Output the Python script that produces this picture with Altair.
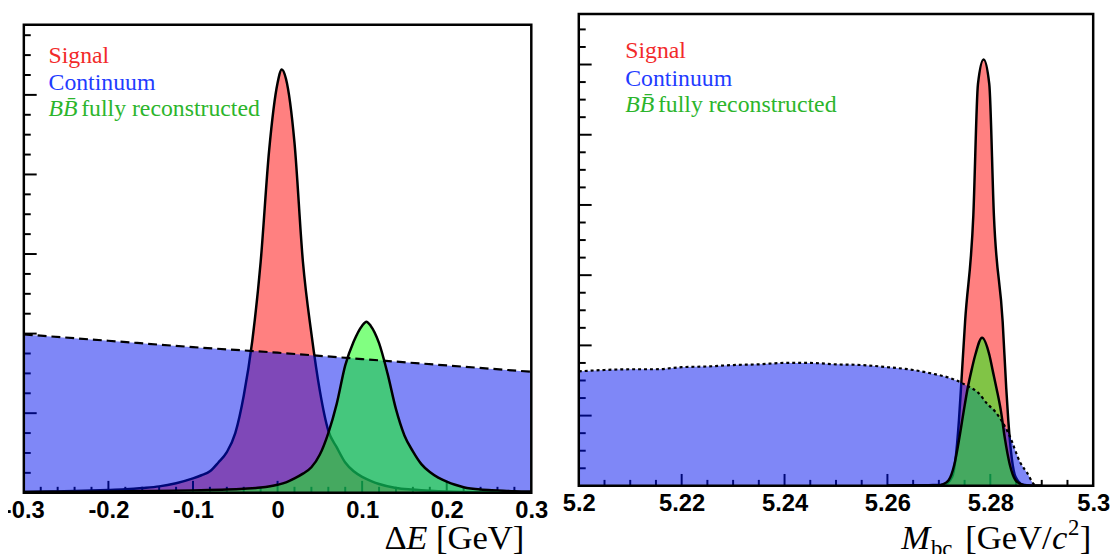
import altair as alt
import pandas as pd

# ---------------- Delta E panel data ----------------
de_signal_x = [-0.30, -0.28, -0.26, -0.24, -0.22, -0.20, -0.18, -0.16, -0.14, -0.12,
               -0.10, -0.09, -0.08, -0.07, -0.06, -0.05, -0.04, -0.03, -0.02, -0.01,
               0.00, 0.005, 0.01, 0.02, 0.03, 0.04, 0.05, 0.06, 0.07, 0.08,
               0.09, 0.10, 0.11, 0.12, 0.14, 0.16, 0.18, 0.20, 0.22, 0.25, 0.30]
de_signal_y = [1.0, 1.3, 1.7, 2.1, 2.7, 3.5, 4.5, 6, 8, 12,
               18, 22, 27, 38, 51, 75, 122, 190, 290, 430,
               515, 532, 520, 440, 290, 200, 128, 78, 57, 38,
               27, 20, 15, 11, 6, 4, 2.5, 1.5, 1.0, 0.7, 0.4]

de_bb_x = [-0.30, -0.25, -0.20, -0.15, -0.10, -0.06, -0.04, -0.02, 0.00, 0.01,
           0.02, 0.03, 0.04, 0.05, 0.06, 0.07, 0.08, 0.09, 0.10, 0.105,
           0.11, 0.12, 0.13, 0.14, 0.15, 0.16, 0.17, 0.18, 0.19, 0.20,
           0.21, 0.22, 0.24, 0.26, 0.28, 0.30]
de_bb_y = [1.0, 1.3, 1.6, 2.2, 3, 4, 5, 6.5, 10, 13,
           18, 24, 32, 48, 75, 112, 160, 190, 210, 215,
           210, 188, 150, 105, 72, 52, 36, 26, 19, 14,
           10, 7, 4, 3, 2, 1.5]

de_cont_x = [-0.3, -0.2, -0.1, 0.0, 0.1, 0.2, 0.3]
de_cont_y = [199, 191, 183, 176, 168, 160, 152]

de_labels = [-0.3, -0.2, -0.1, 0, 0.1, 0.2, 0.3]
de_major_x = [-0.2, -0.1, 0.0, 0.1, 0.2]
de_minor_x = [-0.28, -0.26, -0.24, -0.22, -0.18, -0.16, -0.14, -0.12, -0.08, -0.06, -0.04, -0.02,
              0.02, 0.04, 0.06, 0.08, 0.12, 0.14, 0.16, 0.18, 0.22, 0.24, 0.26, 0.28]
de_major_y = [100, 200, 300, 400, 500]
de_minor_y = [25, 50, 75, 125, 150, 175, 225, 250, 275, 325, 350, 375, 425, 450, 475, 525, 550, 575]

# ---------------- Mbc panel data ----------------
mbc_signal_x = [5.2600, 5.2680, 5.2710, 5.2726, 5.2739, 5.2743, 5.2751, 5.2767, 5.2776, 5.2787,
                5.2798, 5.2807, 5.2824, 5.2831, 5.2835, 5.2849, 5.2864, 5.2880, 5.2900]
mbc_signal_y = [0.3, 1, 1.5, 13, 93, 139, 234, 385, 572, 607,
                572, 385, 234, 139, 93, 13, 1.5, 0.3, 0]

mbc_bb_x = [5.2600, 5.2700, 5.2707, 5.2719, 5.2730, 5.2740, 5.2748, 5.2756, 5.2763, 5.2771,
            5.2784, 5.2798, 5.2805, 5.2812, 5.2821, 5.2828, 5.2838, 5.2849, 5.2861, 5.2870, 5.2900]
mbc_bb_y = [0, 0.5, 2, 8, 30, 69, 105, 139, 163, 187,
            211, 187, 163, 139, 105, 69, 30, 8, 2, 0.5, 0]

mbc_cont_x = [5.200, 5.205, 5.210, 5.215, 5.220, 5.225, 5.230, 5.235, 5.240, 5.245,
              5.250, 5.255, 5.260, 5.265, 5.2692, 5.2724, 5.2756, 5.2776, 5.2795, 5.2808,
              5.2837, 5.2859, 5.2872, 5.2885, 5.2890]
mbc_cont_y = [163, 165, 166, 166, 169, 170, 172, 173, 175, 175,
              173, 172, 169, 165, 159, 153, 142, 133, 116, 107,
              72, 32, 18, 2, 0]

mbc_labels = [5.2, 5.22, 5.24, 5.26, 5.28, 5.3]
mbc_major_x = [5.22, 5.24, 5.26, 5.28]
mbc_minor_x = [5.205, 5.21, 5.215, 5.225, 5.23, 5.235, 5.245, 5.25, 5.255,
               5.265, 5.27, 5.275, 5.285, 5.29, 5.295]
mbc_major_y = [100, 200, 300, 400, 500, 600]
mbc_minor_y = [25, 50, 75, 125, 150, 175, 225, 250, 275, 325, 350, 375,
               425, 450, 475, 525, 550, 575, 625, 650]

legend_names = ["Signal", "Continuum", "B" + "B\u0304", " fully reconstructed"]
legend_colors = ["#f22a2a", "#1f3cff", "#2cb52c"]

RED_FILL = "#ff8080"
BLUE_FILL = "#0010f0"
GREEN_FILL = "#12ff12"


def curve_df(xs, ys):
    return pd.DataFrame({"x": xs, "y": ys})


def txt(x, y, s, color="black", size=24, font="Liberation Serif", style="normal", align="left"):
    return alt.Chart(pd.DataFrame({"t": [s]})).mark_text(
        align=align, baseline="alphabetic", font=font, fontSize=size,
        fontStyle=style, color=color
    ).encode(x=alt.value(x), y=alt.value(y), text="t:N")


def panel(W, H, top, xdom, ydom, labels, sig, cont, bb, cont_dash,
          majx, minx, majy, miny, texts):
    xs = alt.Scale(domain=xdom, nice=False, zero=False)
    ys = alt.Scale(domain=ydom, nice=False, zero=False)
    ax = alt.Axis(values=labels, labelExpr="'' + datum.value", title=None,
                  domain=False, ticks=False, grid=False,
                  labelFont="Liberation Sans", labelFontWeight="bold",
                  labelFontSize=24, labelColor="black", labelPadding=6,
                  labelFlush=False, labelOverlap=False)

    def X():
        return alt.X("x:Q", scale=xs, axis=ax)

    def Y():
        return alt.Y("y:Q", scale=ys, axis=None)

    sig_df = curve_df(*sig)
    cont_df = curve_df(*cont)
    bb_df = curve_df(*bb)

    red_area = alt.Chart(sig_df).mark_area(interpolate="monotone", fill=RED_FILL).encode(x=X(), y=Y())
    red_line = alt.Chart(sig_df).mark_line(interpolate="monotone", color="black", strokeWidth=2.5).encode(x=X(), y=Y())

    tx_major = alt.Chart(pd.DataFrame({"x": majx})).mark_rule(color="black", strokeWidth=2).encode(
        x=X(), y=alt.value(H), y2=alt.value(H - 12))
    tx_minor = alt.Chart(pd.DataFrame({"x": minx})).mark_rule(color="black", strokeWidth=2).encode(
        x=X(), y=alt.value(H), y2=alt.value(H - 6))
    ty_major = alt.Chart(pd.DataFrame({"y": majy})).mark_rule(color="black", strokeWidth=2).encode(
        y=Y(), x=alt.value(0), x2=alt.value(13))
    ty_minor = alt.Chart(pd.DataFrame({"y": miny})).mark_rule(color="black", strokeWidth=2).encode(
        y=Y(), x=alt.value(0), x2=alt.value(7))

    blue_area = alt.Chart(cont_df).mark_area(interpolate="monotone", fill=BLUE_FILL, fillOpacity=0.5).encode(x=X(), y=Y())
    green_area = alt.Chart(bb_df).mark_area(interpolate="monotone", fill=GREEN_FILL, fillOpacity=0.535).encode(x=X(), y=Y())
    green_line = alt.Chart(bb_df).mark_line(interpolate="monotone", color="black", strokeWidth=2.5).encode(x=X(), y=Y())
    cont_line = alt.Chart(cont_df).mark_line(interpolate="monotone", color="black", strokeWidth=2.2, strokeDash=cont_dash).encode(x=X(), y=Y())

    frame = alt.Chart(pd.DataFrame({"a": [0]})).mark_rect(
        fillOpacity=0, stroke="black", strokeWidth=2.5
    ).encode(x=alt.value(0), x2=alt.value(W), y=alt.value(top), y2=alt.value(H))

    return alt.layer(red_area, red_line, tx_major, tx_minor, ty_major, ty_minor,
                     blue_area, green_area, green_line, cont_line, *texts, frame
                     ).properties(width=W, height=H)


# left panel: frame from 11 px below the shared top down to 484
W1, H1, T1 = 513, 484, 11
W2, H2, T2 = 520, 477, 0

left_texts = [
    txt(25, 50, legend_names[0], legend_colors[0]),
    txt(25, 77, legend_names[1], legend_colors[1]),
    txt(25, 103, legend_names[2], legend_colors[2], style="italic"),
    txt(58, 103, legend_names[3], legend_colors[2]),
    txt(506, 541, "[GeV]", size=35, align="right"),
    txt(408, 541, "E", size=35, style="italic", align="right"),
    txt(387, 541, "\u0394", size=35, align="right"),
]
right_texts = [
    txt(47, 45, legend_names[0], legend_colors[0]),
    txt(47, 73, legend_names[1], legend_colors[1]),
    txt(47, 99, legend_names[2], legend_colors[2], style="italic"),
    txt(80, 99, legend_names[3], legend_colors[2]),
    txt(518, 541, "]", size=35, align="right"),
    txt(506, 527, "2", size=23, align="right"),
    txt(494, 541, "c", size=35, style="italic", align="right"),
    txt(478, 541, "[GeV/", size=35, align="right"),
    txt(326, 541, "M", size=35, style="italic"),
    txt(356, 548, "bc", size=23),
]

left = panel(W1, H1, T1, [-0.3, 0.3], [0, 601.7], de_labels,
             (de_signal_x, de_signal_y), (de_cont_x, de_cont_y), (de_bb_x, de_bb_y),
             [9, 5], de_major_x, de_minor_x, de_major_y, de_minor_y, left_texts)

right = panel(W2, H2, T2, [5.2, 5.3], [0, 672], mbc_labels,
              (mbc_signal_x, mbc_signal_y), (mbc_cont_x, mbc_cont_y), (mbc_bb_x, mbc_bb_y),
              [3, 3], mbc_major_x, mbc_minor_x, mbc_major_y, mbc_minor_y, right_texts)

chart = alt.hconcat(left, right, spacing=14).properties(
    padding={"left": -5, "top": 1, "right": 0, "bottom": 0}
).configure_view(strokeWidth=0)

chart.save("out.html", embed_options={"renderer": "svg", "actions": False})
